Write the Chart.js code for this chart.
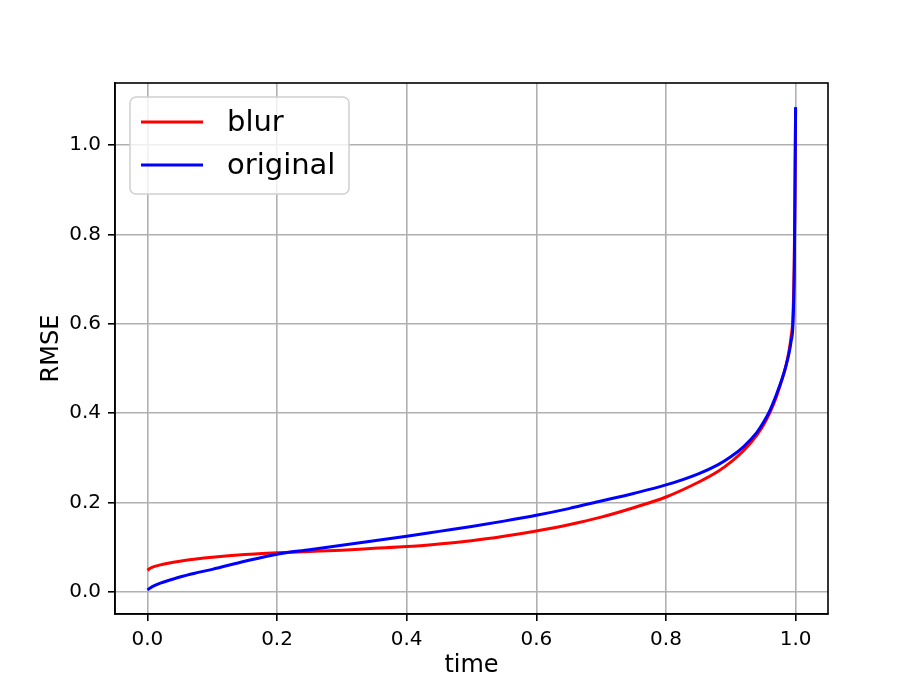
<!DOCTYPE html>
<html>
<head>
<meta charset="utf-8">
<script src="https://cdn.jsdelivr.net/npm/chart.js@4"></script>
<style>
  body { margin: 0; background: #fff; }
  #wrap { width: 920px; height: 690px; }
</style>
</head>
<body>
<div id="wrap"><canvas id="myChart" width="920" height="690"></canvas></div>
<script>
// data
const time = [0, 0.005, 0.01, 0.02, 0.03, 0.05, 0.075, 0.1, 0.15, 0.2, 0.25, 0.3, 0.35, 0.4, 0.45, 0.5, 0.55, 0.6, 0.65, 0.7, 0.75, 0.8, 0.85, 0.88, 0.9, 0.92, 0.94, 0.95, 0.96, 0.97, 0.98, 0.985, 0.99, 0.993, 0.996, 0.998, 0.999, 1.0];
const blur = [0.048, 0.053, 0.056, 0.060, 0.063, 0.068, 0.073, 0.077, 0.083, 0.087, 0.090, 0.093, 0.097, 0.101, 0.107, 0.114, 0.124, 0.136, 0.150, 0.167, 0.188, 0.212, 0.245, 0.269, 0.290, 0.316, 0.350, 0.372, 0.400, 0.435, 0.480, 0.505, 0.540, 0.570, 0.620, 0.750, 0.900, 1.080];
const original = [0.004, 0.009, 0.013, 0.019, 0.024, 0.033, 0.042, 0.050, 0.068, 0.084, 0.094, 0.104, 0.114, 0.124, 0.135, 0.146, 0.158, 0.171, 0.186, 0.203, 0.220, 0.239, 0.264, 0.284, 0.302, 0.325, 0.356, 0.378, 0.405, 0.440, 0.480, 0.505, 0.535, 0.560, 0.600, 0.720, 0.880, 1.085];
const xTicks = [0, 0.2, 0.4, 0.6, 0.8, 1.0];
const yTicks = [0, 0.2, 0.4, 0.6, 0.8, 1.0];

const FONT = 'DejaVu Sans';

function toPoints(xs, ys) {
  return xs.map((x, i) => ({ x: x, y: ys[i] }));
}

// matplotlib風の枠と凡例
const framePlugin = {
  id: 'frame',
  afterDraw(chart) {
    const c = chart.ctx;
    const a = chart.chartArea;
    c.save();
    c.strokeStyle = '#000';
    c.lineWidth = 1.6;
    c.strokeRect(a.left, a.top, a.right - a.left, a.bottom - a.top);

    // legend box
    const bx = a.left + 15, by = a.top + 14, bw = 219, bh = 97, r = 6;
    c.beginPath();
    c.roundRect(bx, by, bw, bh, r);
    c.fillStyle = 'rgba(255,255,255,0.8)';
    c.fill();
    c.strokeStyle = '#d0d0d0';
    c.lineWidth = 1.5;
    c.stroke();

    const items = [chart.data.datasets[0], chart.data.datasets[1]];
    c.font = '29px "' + FONT + '"';
    c.textBaseline = 'middle';
    c.textAlign = 'left';
    items.forEach((ds, i) => {
      const y = by + 25 + i * 43;
      c.beginPath();
      c.moveTo(bx + 11, y);
      c.lineTo(bx + 73, y);
      c.strokeStyle = ds.borderColor;
      c.lineWidth = 3;
      c.stroke();
      c.fillStyle = '#000';
      c.fillText(ds.label, bx + 97, y + 1);
    });
    c.restore();
  }
};

const ctx = document.getElementById('myChart').getContext('2d');

new Chart(ctx, {
  type: 'line',
  data: {
    datasets: [{
      label: 'blur',
      data: toPoints(time, blur),
      borderColor: '#ff0000',
      borderWidth: 3,
      pointRadius: 0,
      cubicInterpolationMode: 'monotone',
      order: 2
    }, {
      label: 'original',
      data: toPoints(time, original),
      borderColor: '#0000ff',
      borderWidth: 3,
      pointRadius: 0,
      cubicInterpolationMode: 'monotone',
      order: 1
    }]
  },
  options: {
    responsive: false,
    devicePixelRatio: 1,
    animation: false,
    layout: {
      padding: { top: 83, right: 92, left: 0, bottom: 0 }
    },
    scales: {
      x: {
        type: 'linear',
        min: -0.05,
        max: 1.05,
        afterBuildTicks: (s) => { s.ticks = xTicks.map(v => ({ value: v })); },
        afterFit: (s) => { s.height = 76; },
        ticks: {
          callback: (v) => v.toFixed(1),
          font: { family: FONT, size: 20 },
          color: '#000',
          padding: 7,
          maxRotation: 0
        },
        grid: {
          color: '#b0b0b0',
          lineWidth: 1.6,
          tickLength: 7,
          tickColor: '#000',
          tickWidth: 1.6
        },
        border: { display: true, color: '#000', width: 1.6 },
        title: {
          display: true,
          text: 'time',
          font: { family: FONT, size: 24 },
          color: '#000',
          padding: { top: 0, bottom: 10 }
        }
      },
      y: {
        type: 'linear',
        min: -0.05,
        max: 1.139,
        afterBuildTicks: (s) => { s.ticks = yTicks.map(v => ({ value: v })); },
        afterFit: (s) => { s.width = 115; },
        ticks: {
          callback: (v) => v.toFixed(1),
          font: { family: FONT, size: 20 },
          color: '#000',
          padding: 7
        },
        grid: {
          color: '#b0b0b0',
          lineWidth: 1.6,
          tickLength: 7,
          tickColor: '#000',
          tickWidth: 1.6
        },
        border: { display: true, color: '#000', width: 1.6 },
        title: {
          display: true,
          text: 'RMSE',
          font: { family: FONT, size: 24 },
          color: '#000',
          padding: { top: 37, bottom: 0 }
        }
      }
    },
    plugins: {
      legend: { display: false },
      tooltip: { enabled: false }
    }
  },
  plugins: [framePlugin]
});
</script>
</body>
</html>
